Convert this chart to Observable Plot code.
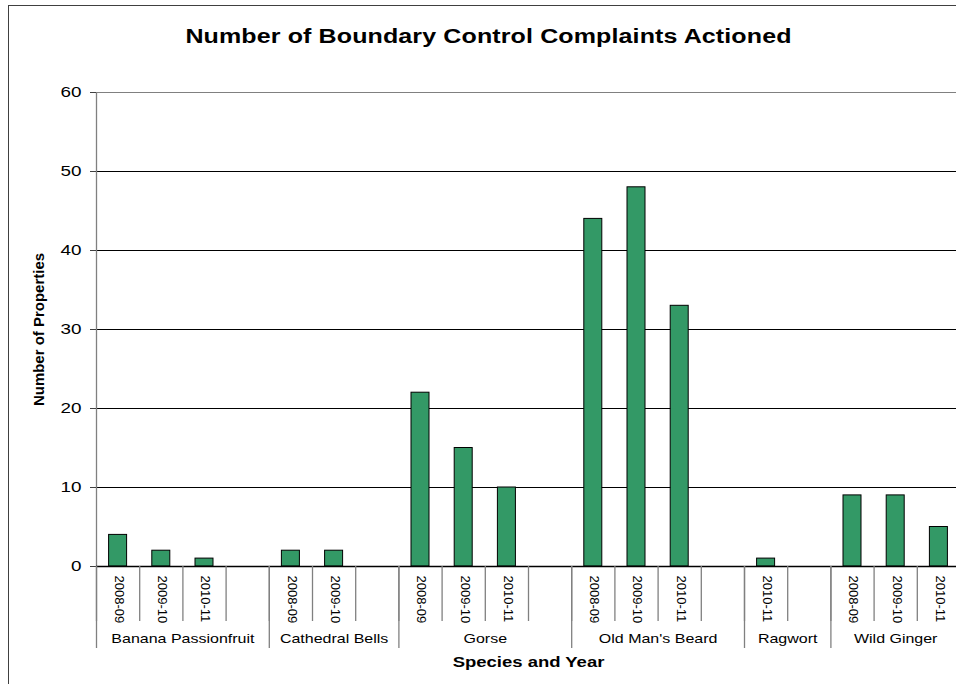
<!DOCTYPE html>
<html>
<head>
<meta charset="utf-8">
<script src="https://cdn.jsdelivr.net/npm/d3@7"></script>
<script src="https://cdn.jsdelivr.net/npm/@observablehq/plot@0.6"></script>
<style>
  html, body { margin: 0; padding: 0; background: #fff; }
  #wrap { position: relative; width: 956px; height: 684px; overflow: hidden; font-family: "Liberation Sans", Arial, sans-serif; }
  #frame { position: absolute; left: 8px; top: 5px; width: 1000px; height: 1000px; border: 1px solid #404040; box-sizing: border-box; }
  #title { position: absolute; left: 8px; top: 24px; width: 960px; text-align: center; font-size: 20px; line-height: 24px; font-weight: bold; color: #000; }
  #title span { display: inline-block; transform: scaleX(1.25); transform-origin: center; letter-spacing: 0.1px; }
  #chart { position: absolute; left: 0; top: 0; width: 970px; }
  #chart svg { max-width: none !important; }
</style>
</head>
<body>
<div id="wrap">
  <div id="frame"></div>
  <div id="title"><span>Number of Boundary Control Complaints Actioned</span></div>
  <div id="chart"></div>
</div>
<script>
const species = ["Banana Passionfruit", "Cathedral Bells", "Gorse", "Old Man's Beard", "Ragwort", "Wild Ginger"];
const yearSlots = [
  ["2008-09", "2009-10", "2010-11", ""],
  ["2008-09", "2009-10", ""],
  ["2008-09", "2009-10", "2010-11", ""],
  ["2008-09", "2009-10", "2010-11", ""],
  ["2010-11", ""],
  ["2008-09", "2009-10", "2010-11"]
];
const counts = [
  [4, 2, 1, null],
  [2, 2, null],
  [22, 15, 10, null],
  [44, 48, 33, null],
  [1, null],
  [9, 9, 5]
];
const yTicks = [0, 10, 20, 30, 40, 50, 60];
const yLabel = "Number of Properties";
const xLabel = "Species and Year";

// build slot table
const slots = [];
const groups = [];
let idx = 0;
species.forEach((s, g) => {
  const start = idx;
  yearSlots[g].forEach((yr, k) => {
    slots.push({species: s, year: yr, value: counts[g][k], i: idx});
    idx++;
  });
  groups.push({name: s, start, end: idx});
});
const slotBounds = d3.range(0, idx + 1);
const groupBounds = groups.map(g => g.start).concat([idx]);

const font = "Liberation Sans, Arial, sans-serif";

const chart = Plot.plot({
  width: 970,
  height: 684,
  marginTop: 92,
  marginBottom: 118,
  marginLeft: 96,
  marginRight: 10,
  style: {fontFamily: font, color: "#000", background: "transparent", overflow: "visible", maxWidth: "none"},
  x: {type: "linear", domain: [0, idx], label: null},
  y: {domain: [0, 60], label: null},
  marks: [
    Plot.ruleY(yTicks.filter(d => d > 0 && d < 60), {stroke: "#000", strokeWidth: 1}),
    Plot.ruleY([60], {stroke: "#808080", strokeWidth: 1}),
    Plot.rectY(slots.filter(d => d.value != null), {
      x1: "i", x2: d => d.i + 1, y: "value",
      insetLeft: 12.6, insetRight: 12.6,
      fill: "#339966", stroke: "#000", strokeWidth: 1
    }),
    Plot.ruleX([0], {stroke: "#808080", strokeWidth: 1.3}),
    Plot.ruleY([0], {stroke: "#000", strokeWidth: 1.3}),
    Plot.axisY(yTicks, {tickSize: 6, tickPadding: 9, fontSize: 14, label: null, stroke: "#404040"}),
    Plot.axisX(slotBounds, {tickSize: 55, tickFormat: () => "", label: null, stroke: "#808080", strokeWidth: 1.3}),
    Plot.axisX(groupBounds, {tickSize: 82, tickFormat: () => "", label: null, stroke: "#808080", strokeWidth: 1.3}),
    Plot.text(slots.filter(d => d.year), {
      x: d => d.i + 0.5, text: "year", frameAnchor: "bottom",
      rotate: 90, textAnchor: "start", lineAnchor: "middle", dy: 9, dx: 1,
      fontSize: 13, fill: "#000"
    }),
    Plot.text(groups, {
      x: g => (g.start + g.end) / 2, text: "name", frameAnchor: "bottom",
      textAnchor: "middle", lineAnchor: "middle", dy: 72,
      fontSize: 13, fill: "#000"
    }),
    Plot.text([xLabel], {
      text: d => d, frameAnchor: "bottom", textAnchor: "middle", lineAnchor: "middle",
      dy: 96, fontSize: 14, fontWeight: "bold", fill: "#000"
    }),
    Plot.text([yLabel], {
      text: d => d, frameAnchor: "left", textAnchor: "middle", lineAnchor: "middle",
      rotate: -90, dx: -57, fontSize: 14, fontWeight: "bold", fill: "#000"
    })
  ]
});

document.getElementById("chart").appendChild(chart);
const yt = chart.querySelector('g[aria-label="y-axis tick label"]');
if (yt) { yt.setAttribute("font-size", "14"); }

// widen glyphs horizontally, as in the original rendering
function stretchEl(t, ratio) {
  const len = t.getComputedTextLength();
  if (len > 0) {
    t.setAttribute("textLength", (len * ratio).toFixed(1));
    t.setAttribute("lengthAdjust", "spacingAndGlyphs");
  }
}
chart.querySelectorAll("text").forEach(t => {
  const s = t.textContent;
  if (species.includes(s)) stretchEl(t, 1.23);
  else if (s === xLabel) stretchEl(t, 1.32);
  else if (s === yLabel) stretchEl(t, 1.07);
});
chart.querySelectorAll('g[aria-label="y-axis tick label"] text').forEach(t => stretchEl(t, 1.35));
</script>
</body>
</html>
